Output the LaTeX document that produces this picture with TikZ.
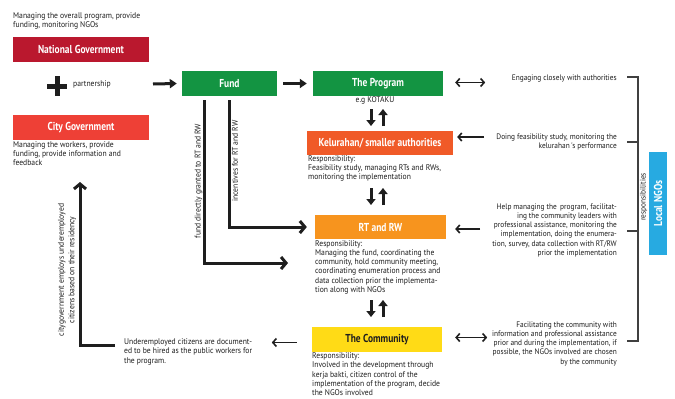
\documentclass[tikz,border=0pt]{standalone}
\usepackage{fontspec}
\setmainfont{PT Sans}
\newfontfamily\bodyfont[FakeStretch=0.92]{PT Sans}
\newfontfamily\titlefont[FakeStretch=0.82]{PT Sans}
\usetikzlibrary{arrows.meta}
\definecolor{natred}{RGB}{186,24,46}
\definecolor{cityred}{RGB}{238,64,54}
\definecolor{fundgreen}{RGB}{19,148,66}
\definecolor{kelorange}{RGB}{240,90,40}
\definecolor{rtorange}{RGB}{247,148,30}
\definecolor{commyellow}{RGB}{255,219,22}
\definecolor{ngoblue}{RGB}{39,170,225}
\definecolor{ink}{RGB}{30,30,30}
\tikzset{
  box/.style={rectangle, inner sep=0pt, minimum height=24.5pt, text=white,
    font=\titlefont\bfseries\fontsize{11.5}{13}\selectfont},
  body/.style={inner sep=0pt, align=left, anchor=north west, text=ink,
    font=\bodyfont\fontsize{8.3}{9.3}\selectfont},
  rbody/.style={body, align=right, anchor=north east,
    font=\bodyfont\fontsize{8.0}{9.3}\selectfont},
  rot/.style={inner sep=0pt, rotate=90, text=ink, align=center,
    font=\bodyfont\fontsize{8.3}{10.5}\selectfont},
  bigarrow/.style={line width=3pt, draw=ink, -{Triangle[length=7pt,width=9pt]}},
  smallarrow/.style={line width=3pt, draw=ink, -{Triangle[length=6pt,width=9pt]}},
  chev/.style={line width=3pt, draw=ink, -{Straight Barb[length=5pt,width=12pt]}},
  ngo/.style={line width=1.6pt, draw=ink, -{Straight Barb[length=3.5pt,width=8pt]}},
  ngotwo/.style={line width=1.6pt, draw=ink, {Straight Barb[length=3.5pt,width=8pt]}-{Straight Barb[length=3.5pt,width=8pt]}},
  brk/.style={line width=1.2pt, draw=ink!85}
}
\begin{document}
\begin{tikzpicture}[x=1pt,y=-1pt]
\useasboundingbox (0,0) rectangle (675,399);
\fill[white] (0,0) rectangle (675,399);

% left column
\node[body] (topt) at (13,12.2) {Managing the overall program, provide\\funding, monitoring NGOs};
\node[box, fill=natred, minimum width=136pt] (nat) at (81,49.5) {National Government};
\fill[ink] (47,83.5) rectangle (67,88.5);
\fill[ink] (54.5,76) rectangle (59.5,96);
\node[body, anchor=west] (part) at (73,84) {partnership};
\node[box, fill=cityred, minimum width=136pt] (city) at (81,127.5) {City Government};
\node[body] (cityt) at (13,141.2) {Managing the workers, provide\\funding, provide information and\\feedback};

% fund and program
\node[box, fill=fundgreen, minimum width=95pt] (fund) at (229.5,83.5) {Fund};
\node[box, fill=fundgreen, minimum width=130pt] (prog) at (378,83.5) {The Program};
\node[body, anchor=center] (kot) at (375,100) {e.g KOTAKU};
\node[box, fill=kelorange, minimum width=146pt] (kel) at (380,143) {Kelurahan/\,smaller authorities};
\node[body] (kelt) at (308,155.2) {Responsibility:\\Feasibility study, managing RTs and RWs,\\monitoring the implementation};
\node[box, fill=rtorange, minimum width=131pt] (rt) at (380.5,227) {RT and RW};
\node[body] (rtt) at (315,240) {Responsibility:\\Managing the fund, coordinating the\\community, hold community meeting,\\coordinating enumeration process and\\data collection prior the implementa-\\tion along with NGOs};
\node[box, fill=commyellow, minimum width=130pt, text=ink] (comm) at (377,339.5) {The Community};
\node[body] (commt) at (312,352.6) {Responsibility:\\Involved in the development through\\kerja bakti, citizen control of the\\implementation of the program, decide\\the NGOs involved};

% partnership / fund arrows
\coordinate (pa) at (153,84);
\draw[bigarrow] (pa) -- ([xshift=-5pt]fund.west);
\draw[bigarrow] ([xshift=6pt]fund.east) -- ([xshift=-6pt]prog.west);

% fund lines
\coordinate (fa) at (204,100);
\coordinate (fb) at (229,100);
\coordinate (fatip) at (288,263);
\draw[chev] (fa) |- (fatip);
\draw[chev] (fb) |- ([xshift=-8pt]rt.west);
\node[rot] (fat) at (198.5,181) {fund directly granted to RT and RW};
\node[rot] (fbt) at (235,161) {incentives for RT and RW};

% vertical arrow pairs
\coordinate (a1t) at (371,109); \coordinate (a1b) at (371,126);
\coordinate (b1t) at (383,109); \coordinate (b1b) at (383,126);
\draw[smallarrow] (a1t) -- (a1b);
\draw[smallarrow] (b1b) -- (b1t);
\coordinate (a2t) at (371,188); \coordinate (a2b) at (371,205);
\coordinate (b2t) at (383,188); \coordinate (b2b) at (383,205);
\draw[smallarrow] (a2t) -- (a2b);
\draw[smallarrow] (b2b) -- (b2t);
\coordinate (a3t) at (371,300); \coordinate (a3b) at (371,317);
\coordinate (b3t) at (383,300); \coordinate (b3b) at (383,317);
\draw[smallarrow] (a3t) -- (a3b);
\draw[smallarrow] (b3b) -- (b3t);

% underemployed
\node[body] (ue) at (124,338.4) {Underemployed citizens are document-\\ed to be hired as the public workers for\\the program.};
\draw[ngo] ([xshift=-15pt,yshift=-3pt]comm.west) -- ([xshift=-40pt,yshift=-3pt]comm.west);
\coordinate (u1) at (115,345);
\coordinate (u2) at (80,182);
\draw[chev] (u1) -| (u2);
\node[rot] (uet) at (67,270) {citygovernment employs underemployed\\citizens based on their residency};

% NGO side
\node[rbody] (eng) at (617,74.2) {Engaging closely with authorities};
\node[rbody] (doi) at (617,133.2) {Doing feasibility study, monitoring the\\kelurahan\,'s performance};
\node[rbody] (hel) at (617,203.2) {Help managing the\, program, facilitat-\\ing the community leaders with\\professional assistance, monitoring the\\implementation, doing the enumera-\\tion, survey, data collection with RT/RW\\prior the implementation};
\node[rbody] (fac) at (617,321.2) {Facilitating the community with\\information and professional assistance\\prior and during the implementation, if\\possible, the NGOs involved are chosen\\by the community};

\draw[ngotwo] ([xshift=12pt,yshift=1pt]prog.east) -- ([xshift=42pt,yshift=1pt]prog.east);
\draw[ngo] ([xshift=31pt,yshift=6pt]kel.east) -- ([xshift=4pt,yshift=6pt]kel.east);
\draw[ngo] ([xshift=34pt,yshift=-2pt]rt.east) -- ([xshift=9pt,yshift=-2pt]rt.east);
\draw[ngotwo] ([xshift=13pt,yshift=2pt]comm.east) -- ([xshift=45pt,yshift=2pt]comm.east);

% bracket
\coordinate (k1) at (627,77); \coordinate (k1r) at (638,77);
\coordinate (k2) at (627,142); \coordinate (k2r) at (638,142);
\coordinate (k3) at (627,231); \coordinate (k3r) at (638,231);
\coordinate (k4) at (627,341); \coordinate (k4r) at (638,341);
\draw[brk] (k1) -- (k1r) -- (k4r) -- (k4);
\draw[brk] (k2) -- (k2r);
\draw[brk] (k3) -- (k3r);
\node[rot, font=\bodyfont\fontsize{8}{9}\selectfont] (resp) at (643.5,197) {responsibilities};
\node[rectangle, fill=ngoblue, minimum width=18pt, minimum height=103pt, inner sep=0pt] (ngo) at (658,203.5) {};
\node[rotate=90, text=white, inner sep=0pt, font=\titlefont\bfseries\fontsize{11.5}{13}\selectfont] (ngot) at (ngo.center) {Local NGOs};
\end{tikzpicture}
\end{document}
